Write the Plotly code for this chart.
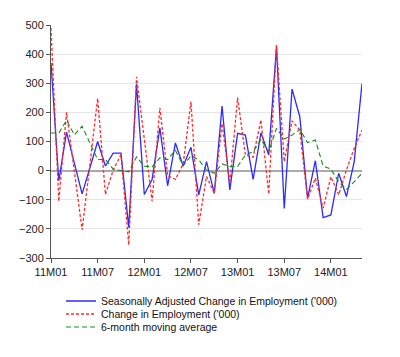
import plotly.graph_objects as go

months = [f"{y}M{m:02d}" for y in (11, 12, 13, 14) for m in range(1, 13)][:41]

sa_change = [370, -35, 132, 26, -80, 9, 100, 16, 60, 60, -195,
             297, -82, -31, 147, -52, 95, 16, 80, -83, 31,
             -78, 222, -66, 128, 122, -30, 130, 54, 425, -130,
             280, 185, -95, 34, -161, -152, -9, -89, 31, 299]

nsa_change = [490, -105, 200, 0, -203, 20, 248, -82, 2, 55, -255,
              322, 100, -105, 216, -17, -30, 23, 237, -186, -20,
              -78, 162, -43, 251, 54, 46, 174, -80, 431, 31,
              171, 139, -98, -26, -129, -21, -83, 2, 77, 139]

ma6 = [129, 129, 173, 123, 152, 95, 38, 38, 5, 0, -4,
       47, 15, 13, 44, 38, 70, 17, 51, 37, 2,
       -9, 23, 14, 14, 54, 65, 107, 65, 145, 109,
       122, 142, 96, 105, 16, 5, -38, -64, -38, -9]

tick_labels = ["11M01", "11M07", "12M01", "12M07", "13M01", "13M07", "14M01"]
y_ticks = [-300, -200, -100, 0, 100, 200, 300, 400, 500]

fig = go.Figure()
fig.add_trace(go.Scatter(x=months, y=sa_change, mode="lines",
                         name="Seasonally Adjusted Change in Employment ('000)",
                         line=dict(color="#2a2aff", width=1.3), legend="legend"))
fig.add_trace(go.Scatter(x=months, y=nsa_change, mode="lines",
                         name="Change in Employment ('000)",
                         line=dict(color="#ff2a2a", width=1.3, dash="3px,2px"),
                         legend="legend2"))
fig.add_trace(go.Scatter(x=months, y=ma6, mode="lines",
                         name="6-month moving average",
                         line=dict(color="#1a8a1a", width=1.1, dash="5px,3px"),
                         legend="legend3"))

leg_common = dict(xref="container", yref="container", x=0.1325, xanchor="left",
                  yanchor="middle", bgcolor="rgba(0,0,0,0)",
                  font=dict(size=10.5, color="#111"), itemwidth=30)

fig.update_layout(
    width=400, height=357,
    margin=dict(l=43, r=46, t=17, b=107, autoexpand=False),
    paper_bgcolor="white", plot_bgcolor="white",
    font=dict(family="Liberation Sans, Arial, sans-serif", size=11, color="#222"),
    showlegend=True,
    legend=dict(y=0.1793, **leg_common),
    legend2=dict(y=0.1429, **leg_common),
    legend3=dict(y=0.1064, **leg_common),
    xaxis=dict(type="category", range=[0, 40], tickmode="array",
               tickvals=tick_labels, ticktext=tick_labels, automargin=False,
               showgrid=False, showline=True, linecolor="#555", linewidth=1,
               ticks="outside", ticklen=4, tickcolor="#555", zeroline=False,
               tickfont=dict(size=11)),
    yaxis=dict(range=[-300, 500], tickvals=y_ticks, automargin=False,
               showgrid=True, gridcolor="#e6e6e6", gridwidth=1,
               zeroline=True, zerolinecolor="#aaaaaa", zerolinewidth=2,
               showline=True, linecolor="#555", linewidth=1,
               ticks="outside", ticklen=4, tickcolor="#555",
               tickfont=dict(size=11)),
)

fig.write_html("out.html")
